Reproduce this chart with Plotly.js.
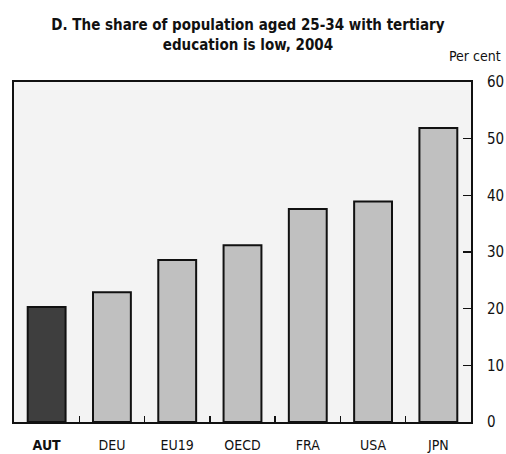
<!DOCTYPE html>
<html>
<head>
<meta charset="utf-8">
<script src="https://cdn.plot.ly/plotly-3.0.1.min.js"></script>
<style>html,body{margin:0;padding:0;background:#fff;}#chart{width:506px;height:454px;}</style>
</head>
<body>
<div id="chart"></div>
<script>
var categories = ['AUT', 'DEU', 'EU19', 'OECD', 'FRA', 'USA', 'JPN'];
var values = [20.3, 22.9, 28.6, 31.2, 37.6, 38.9, 51.9];
var yTicks = [0, 10, 20, 30, 40, 50, 60];
var titleText = 'D. The share of population aged 25-34 with tertiary<br>education is low, 2004';
var unitText = 'Per cent';

var FONT = '"DejaVu Sans Condensed", "Liberation Sans Narrow", "Liberation Sans", sans-serif';
var colors = categories.map(function (c) { return c === 'AUT' ? '#3e3e3e' : '#c0c0c0'; });
var tickText = categories.map(function (c) { return c === 'AUT' ? '<b>' + c + '</b>' : c; });

var trace = {
  type: 'bar',
  x: categories,
  y: values,
  marker: { color: colors, line: { color: '#111', width: 2 } },
  hoverinfo: 'x+y'
};

var layout = {
  width: 506, height: 454,
  margin: { l: 14, r: 35, t: 82, b: 32 },
  paper_bgcolor: '#ffffff',
  plot_bgcolor: '#f3f3f3',
  bargap: 0.42,
  showlegend: false,
  font: { family: FONT, size: 14, color: '#111' },
  title: {
    text: '<b>' + titleText + '</b>',
    font: { family: FONT, size: 15, color: '#111' },
    xref: 'container', yref: 'container',
    x: 0.49, xanchor: 'center',
    y: 1 - 30 / 454, yanchor: 'top'
  },
  xaxis: {
    type: 'category',
    tickvals: categories,
    ticktext: tickText,
    tickson: 'boundaries',
    ticks: 'inside', ticklen: 6, tickwidth: 1.5, tickcolor: '#111',
    showline: true, linecolor: '#111', linewidth: 2, mirror: true,
    showgrid: false, zeroline: false,
    tickfont: { family: FONT, size: 14, color: '#111' },
    ticklabelstandoff: 9,
    fixedrange: true
  },
  yaxis: {
    side: 'right',
    range: [0, 60],
    tickvals: yTicks,
    ticks: 'inside', ticklen: 8, tickwidth: 1.5, tickcolor: '#111',
    showline: true, linecolor: '#111', linewidth: 2, mirror: true,
    showgrid: false, zeroline: false,
    tickfont: { family: FONT, size: 15, color: '#111' },
    ticklabelstandoff: 11,
    fixedrange: true
  },
  annotations: [{
    text: unitText,
    xref: 'paper', yref: 'paper',
    x: 1, y: 1, xshift: 32, yshift: 26,
    xanchor: 'right', yanchor: 'middle',
    showarrow: false,
    font: { family: FONT, size: 14, color: '#111' }
  }]
};

Plotly.newPlot('chart', [trace], layout, { displayModeBar: false, staticPlot: true });
</script>
</body>
</html>
